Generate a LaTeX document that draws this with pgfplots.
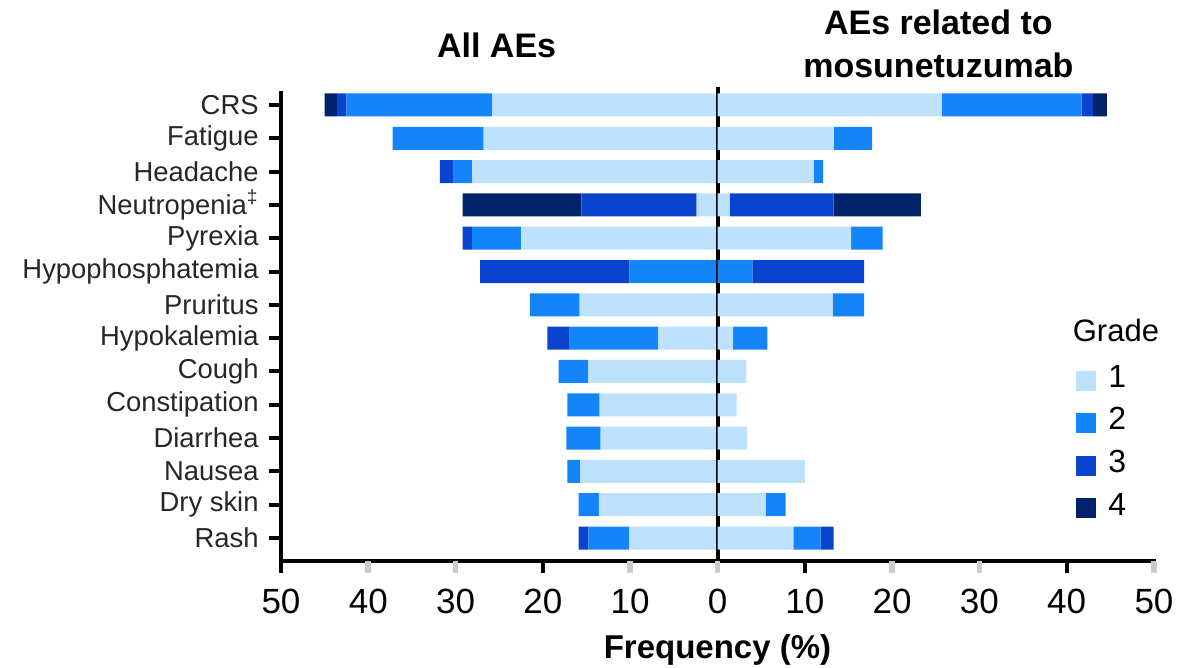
\documentclass[border=0pt]{standalone}
\usepackage{fontspec}
\setmainfont{Liberation Sans}
\usepackage{pgfplots}
\pgfplotsset{compat=1.18}
\usepackage{pgfplotstable}
\definecolor{gA}{RGB}{190,226,253}
\definecolor{gB}{RGB}{20,132,249}
\definecolor{gC}{RGB}{10,68,206}
\definecolor{gD}{RGB}{0,34,106}
\pgfplotsset{
  sq legend/.style={legend image code/.code={\fill[##1,draw=none] (0pt,-6.5pt) rectangle (10pt,3.5pt);}},
  common/.style={
    at={(0,0)}, anchor=south west,
    scale only axis, width=436.5pt, height=234pt,
    xmin=-50, xmax=50, ymin=-0.69, ymax=13.36,
    xbar stacked, bar width=0.69, clip=false,
  }
}
% All AEs (left side, negative direction)
\pgfplotstableread{
y g1 g2 g3 g4
0 -10.1 -4.7 -1.1 0
1 -13.6 -2.3 0 0
2 -15.7 -1.5 0 0
3 -13.4 -3.9 0 0
4 -13.5 -3.7 0 0
5 -14.8 -3.4 0 0
6 -6.8 -10.2 -2.5 0
7 -15.8 -5.7 0 0
8 0 -10.1 -17.1 0
9 -22.5 -5.6 -1.1 0
10 -2.4 0 -13.2 -13.6
11 -28.1 -2.2 -1.5 0
12 -26.8 -10.4 0 0
13 -25.8 -16.7 -1.1 -1.4
}\allaes
% AEs related to mosunetuzumab (right side)
\pgfplotstableread{
y g1 g2 g3 g4
0 8.7 3.1 1.5 0
1 5.5 2.3 0 0
2 10.0 0 0 0
3 3.4 0 0 0
4 2.2 0 0 0
5 3.3 0 0 0
6 1.8 3.9 0 0
7 13.2 3.6 0 0
8 0 4.0 12.8 0
9 15.3 3.6 0 0
10 1.4 0 11.9 10.0
11 11.0 1.1 0 0
12 13.3 4.4 0 0
13 25.7 16.0 1.3 1.6
}\related
\begin{document}
\begin{tikzpicture}
\begin{axis}[
  common, name=ax,
  every axis plot post/.append style={sq legend},
  axis lines*=left,
  axis line style={line width=1.8pt, line cap=rect},
  tick align=outside, major tick length=6pt,
  tick style={line width=2pt, black},
  xtick={-50,-20,10,40}, xticklabels={50,20,10,40},
  extra x ticks={-40,-30,-10,0,20,30,50},
  extra x tick labels={40,30,10,0,20,30,50},
  extra x tick style={tick style={line width=2.8pt, black!20}},
  xticklabel style={font=\fontsize{17.5}{18}\selectfont, inner sep=0pt, yshift=-8pt},
  ytick={0,...,13},
  yticklabels={Rash,Dry skin,Nausea,Diarrhea,Constipation,Cough,Hypokalemia,Pruritus,Hypophosphatemia,Pyrexia,Neutropenia\textsuperscript{‡},Headache,Fatigue,CRS},
  yticklabel style={font=\fontsize{13.7}{14}\selectfont, text=black!85, inner sep=0pt, xshift=-5pt},
  legend style={at={(axis cs:41.12,5.19)}, anchor=north west, draw=none, fill=none,
    inner sep=0pt, outer sep=0pt, font=\fontsize{16}{16}\selectfont, row sep=8.5pt,
    nodes={inner sep=0pt},
    /tikz/every odd column/.append style={column sep=6pt}},
  legend cell align=left,
]
\addplot[sq legend, fill=gA, draw=none] table[x=g1, y=y] {\allaes};
\addplot[sq legend, fill=gB, draw=none] table[x=g2, y=y] {\allaes};
\addplot[sq legend, fill=gC, draw=none] table[x=g3, y=y] {\allaes};
\addplot[sq legend, fill=gD, draw=none] table[x=g4, y=y] {\allaes};
\legend{1,2,3,4}
\node[font=\bfseries\fontsize{17}{17}\selectfont, anchor=center] at (axis cs:-25.3,14.80) {All AEs};
\node[font=\bfseries\fontsize{17}{21.5}\selectfont, align=center, anchor=center] at (axis cs:25.3,14.83) {AEs related to\\mosunetuzumab};
\node[font=\fontsize{15.5}{16}\selectfont, anchor=base west, inner sep=0pt] at (axis cs:40.66,5.885) {Grade};
\node[font=\bfseries\fontsize{16.5}{17}\selectfont, anchor=center] at (axis cs:0,-3.36) {Frequency (\%)};
\end{axis}
\begin{axis}[common, hide axis]
\addplot[fill=gA, draw=none] table[x=g1, y=y] {\related};
\addplot[fill=gB, draw=none] table[x=g2, y=y] {\related};
\addplot[fill=gC, draw=none] table[x=g3, y=y] {\related};
\addplot[fill=gD, draw=none] table[x=g4, y=y] {\related};
\draw[line width=2pt] (axis cs:0,13.54) -- (axis cs:0,-0.69);
\end{axis}
\pgfresetboundingbox
\path ([shift={(-140.5pt,-53.5pt)}]ax.south west) rectangle ([shift={(24.5pt,46.5pt)}]ax.north east);
\end{tikzpicture}
\end{document}
